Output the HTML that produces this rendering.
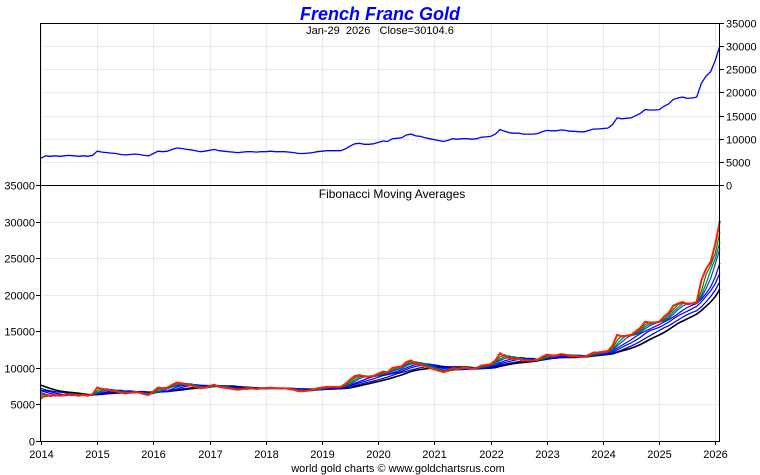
<!DOCTYPE html>
<html><head><meta charset="utf-8"><style>
body{margin:0;background:#fff;}
svg{display:block;font-family:"Liberation Sans",sans-serif;}
</style></head><body>
<svg id="chart" width="760" height="475" viewBox="0 0 760 475" xmlns="http://www.w3.org/2000/svg">
<rect width="760" height="475" fill="#fff"/>
<text x="380" y="20" text-anchor="middle" font-size="18" font-weight="bold" font-style="italic" fill="#0000ff">French Franc Gold</text>
<g id="grid"></g>
<text x="380" y="34" text-anchor="middle" font-size="11" fill="#000" xml:space="preserve">Jan-29  2026   Close=30104.6</text>
<g id="series"></g>
<rect x="40.5" y="23.5" width="679" height="162" fill="none" stroke="#000"/>
<rect x="40.5" y="185.5" width="679" height="256" fill="none" stroke="#000"/>
<text x="392" y="198" text-anchor="middle" font-size="12" fill="#000">Fibonacci Moving Averages</text>
<g id="axes" font-size="11" fill="#000"></g>
<text x="398" y="472" text-anchor="middle" font-size="11" fill="#000">world gold charts © www.goldchartsrus.com</text>
</svg>
<script>
const years = [2014,2015,2016,2017,2018,2019,2020,2021,2022,2023,2024,2025,2026];
const ticks = [0,5000,10000,15000,20000,25000,30000,35000];
const priorMonths = [9600,9500,9200,9000,8300,7700,7500,7000,7200,7600,7300,7100,6900,6600];
const prices = [
5800,6300,6200,6300,6200,6300,6400,6300,6200,6300,6200,6400,
7300,7100,7000,6900,6800,6600,6500,6600,6700,6600,6400,6300,
6800,7300,7200,7300,7700,8000,7900,7700,7600,7400,7200,7300,
7500,7700,7400,7300,7200,7100,7000,7100,7200,7200,7100,7200,
7200,7300,7200,7200,7200,7100,7000,6800,6800,6900,7000,7200,
7300,7400,7400,7400,7400,7800,8400,8900,9000,8800,8800,8900,
9200,9500,9400,10000,10100,10200,10800,11000,10600,10500,10200,10000,
9800,9600,9400,9700,10000,9900,10000,10000,9900,10000,10300,10400,
10500,11000,12000,11600,11300,11200,11200,11000,11000,11000,11100,11500,
11800,11700,11700,11900,11800,11600,11600,11500,11500,11800,12100,12100,
12200,12300,13000,14500,14300,14400,14500,15000,15500,16300,16200,16200,
16300,17000,17500,18500,18800,19000,18700,18800,19000,22000,23500,24500,
27000,30100];
const maWindows = [2,3,4,6,8,11,14];
const maColors = ["#008000","#007070","#0050a0","#0000ff","#0000e0","#0000cc","#000000"];

const ns="http://www.w3.org/2000/svg";
const X0=41, PX=56.2;
const xYear = y => X0 + (y-2014)*PX;
const yTop = v => 185 - v*162/35000;
const yBot = v => 441 - v*256/35000;
function el(tag, attrs, parent){const e=document.createElementNS(ns,tag);for(const k in attrs)e.setAttribute(k,attrs[k]);parent.appendChild(e);return e;}
const grid=document.getElementById('grid'), axes=document.getElementById('axes'), series=document.getElementById('series');
years.forEach(y=>{
  const x=Math.round(xYear(y))+0.5;
  const g=el('line',{x1:x,x2:x,y1:23,y2:441,stroke:'#e0ecf6'},grid);
  
  
  const t=el('line',{x1:x,x2:x,y1:441,y2:445,stroke:'#000'},axes);
  
  
  const l=el('text',{x:x,y:458,'text-anchor':'middle'},axes);l.textContent=y;
  
  
});
ticks.forEach(v=>{
  const yt=Math.round(yTop(v))+0.5, yb=Math.round(yBot(v))+0.5;
  if(v>0&&v<35000){
    const a=el('line',{x1:40,x2:720,y1:yt,y2:yt,stroke:'#e0ecf6'},grid);
    
    
    const b=el('line',{x1:40,x2:720,y1:yb,y2:yb,stroke:'#e0ecf6'},grid);
    
    
  }
  const tr=el('line',{x1:720,x2:724,y1:yt,y2:yt,stroke:'#000'},axes);
  
  
  const lr=el('text',{x:726,y:yt+4},axes);lr.textContent=v;
  
  
  const tl=el('line',{x1:36,x2:40,y1:yb,y2:yb,stroke:'#000'},axes);
  
  
  const ll=el('text',{x:35,y:yb+4,'text-anchor':'end'},axes);ll.textContent=v;
  
  
});
const n=prices.length;
const xi = i => X0 + (i===n-1 ? 2026.08-2014 : i/12)*PX;
function path(vals, yf){return vals.map((v,i)=>(i?'L':'M')+xi(i).toFixed(1)+','+yf(v).toFixed(1)).join('');}
const all=priorMonths.concat(prices);
for(let k=maWindows.length-1;k>=0;k--){
  const w=maWindows[k];
  const ma=prices.map((_,i)=>{const j=i+priorMonths.length;let s=0;for(let q=0;q<w;q++)s+=all[j-q];return s/w;});
  const p=el('path',{d:path(ma,yBot),fill:'none',stroke:maColors[k],'stroke-width':k===maWindows.length-1?1.6:1.2},series);
  
  
}
const pr=el('path',{d:path(prices,yBot),fill:'none',stroke:'#ff2000','stroke-width':2},series);


const pt=el('path',{d:path(prices,yTop),fill:'none',stroke:'#0000ff','stroke-width':1.3},series);


</script>
</body></html>
